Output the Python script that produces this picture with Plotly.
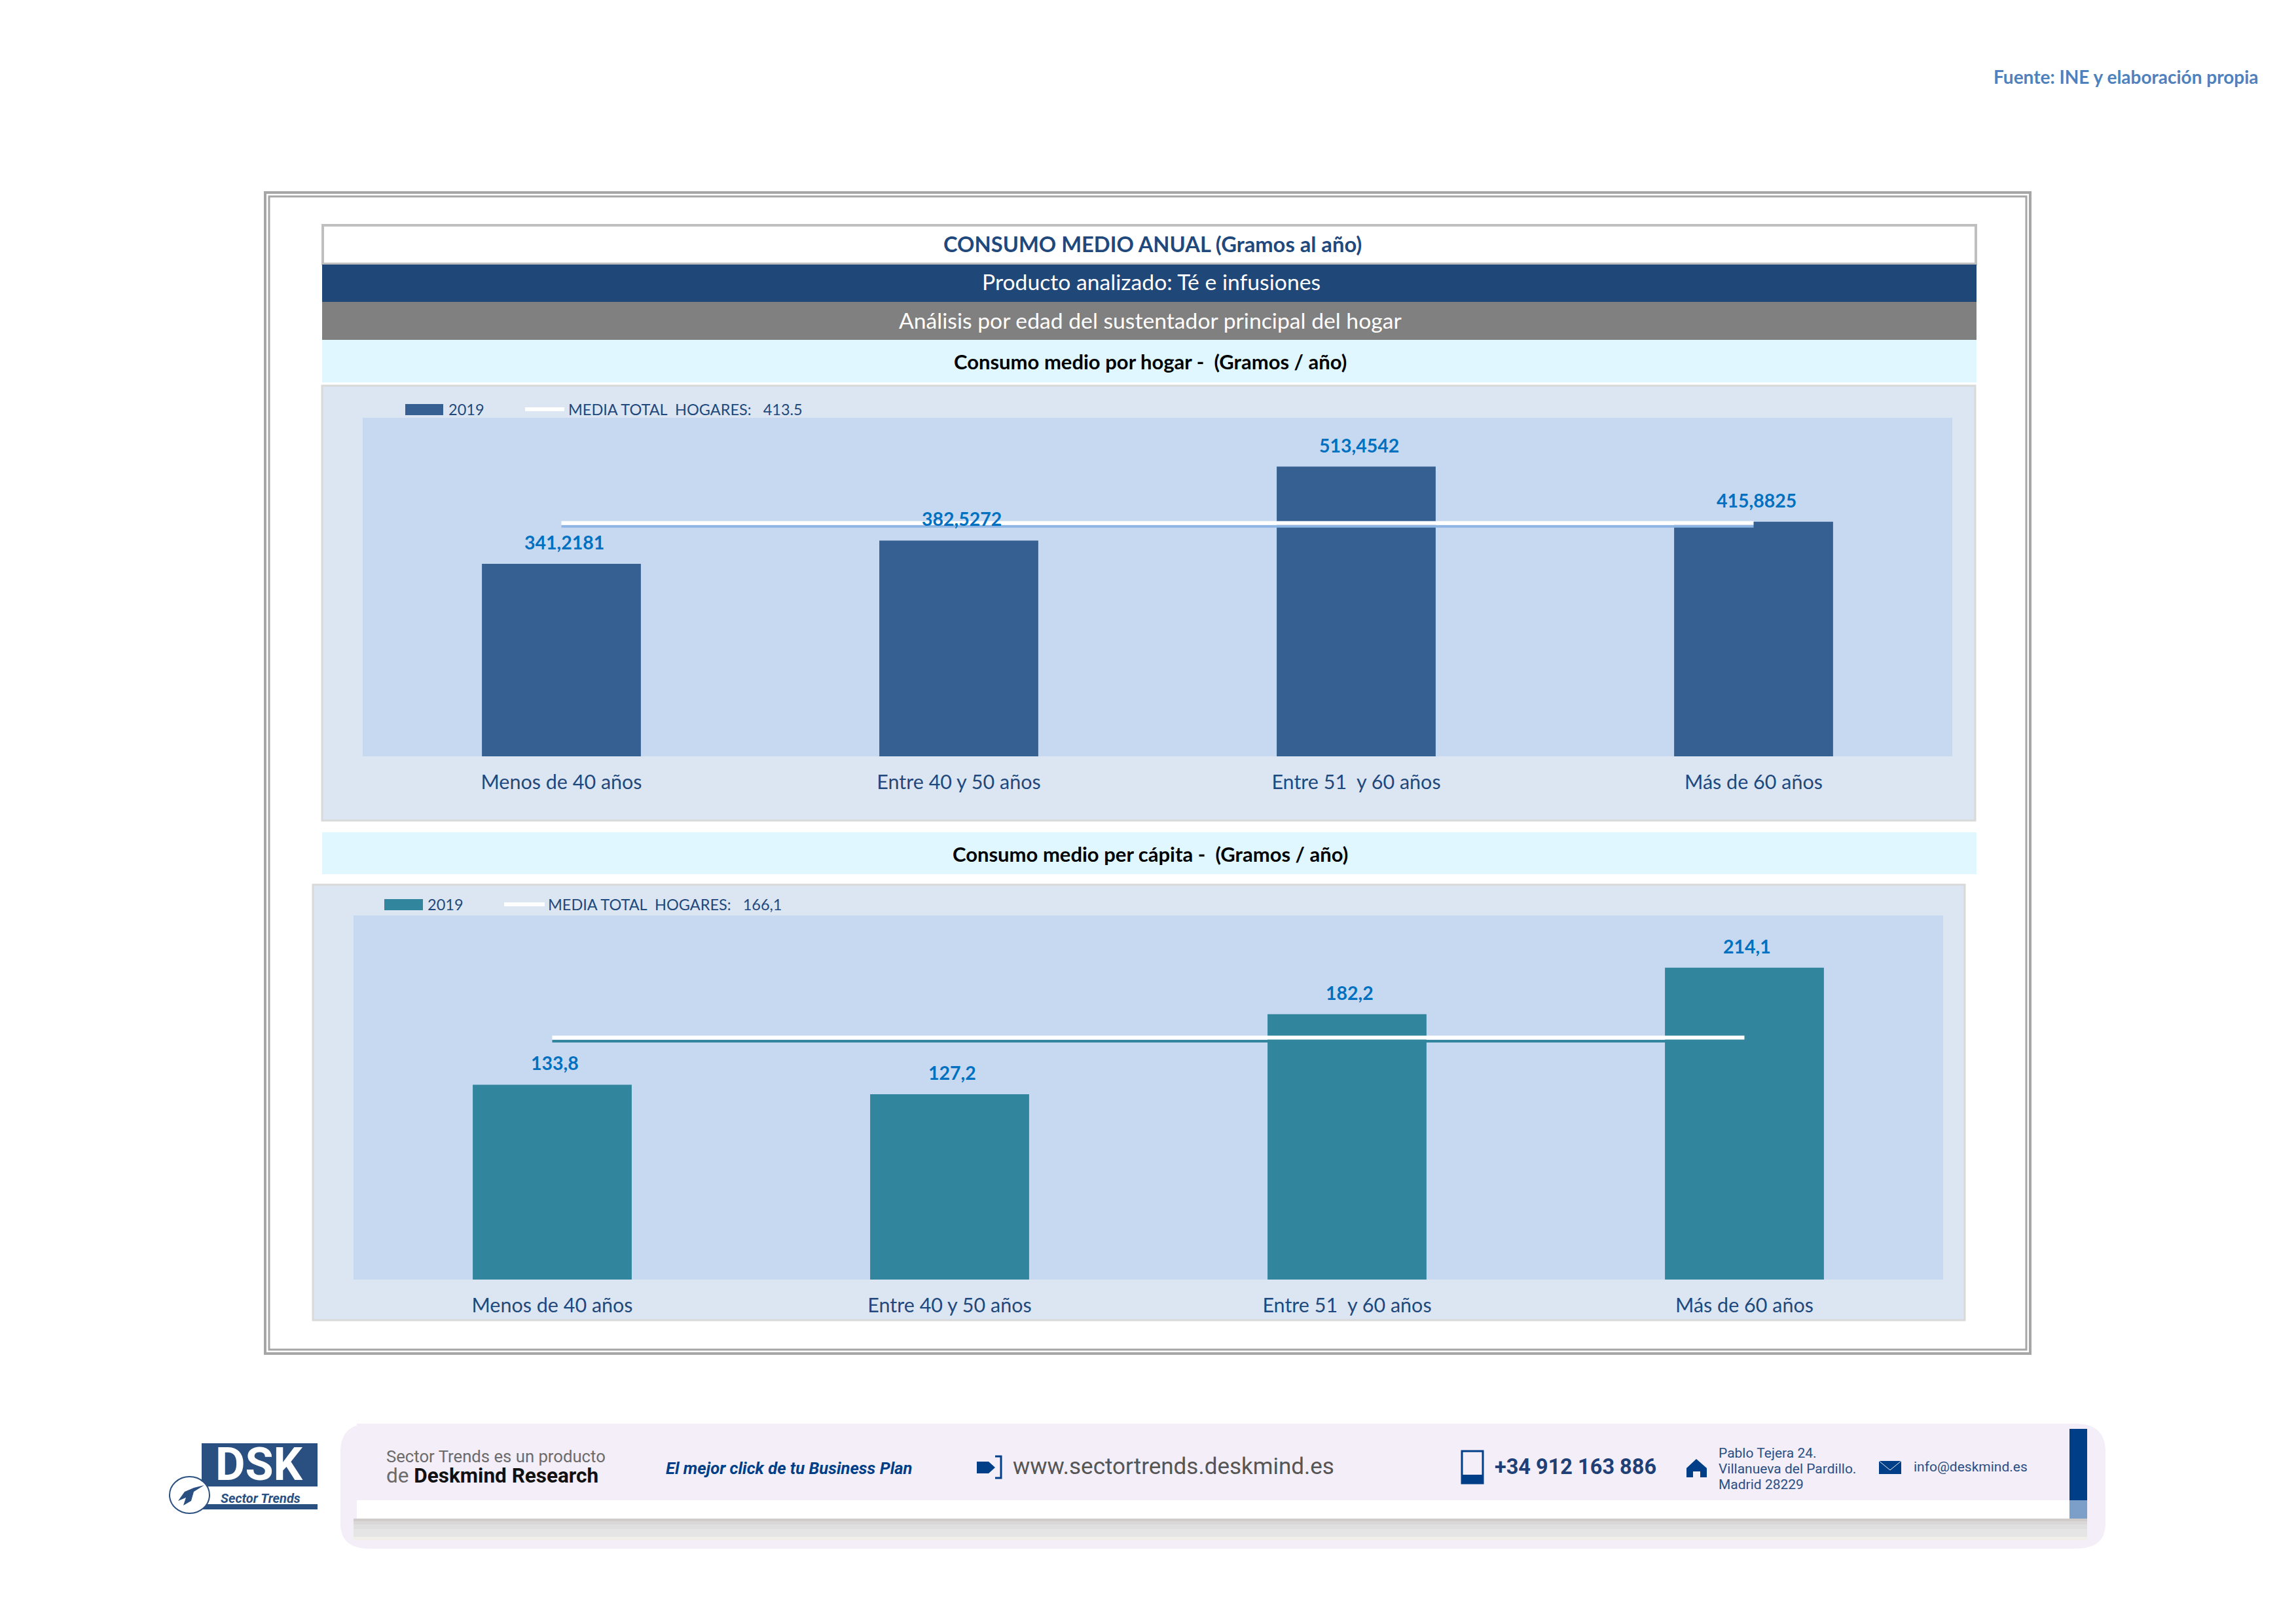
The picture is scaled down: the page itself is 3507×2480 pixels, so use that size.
import plotly.graph_objects as go

W, H = 3507, 2480

# ---------- data ----------
categories = ["Menos de 40 años", "Entre 40 y 50 años", "Entre 51\u00a0 y 60 años", "Más de 60 años"]
values_hogar = [341.2181, 382.5272, 513.4542, 415.8825]
values_capita = [133.8, 127.2, 182.2, 214.1]
mean_hogar = 413.5
mean_capita = 166.1
labels_hogar = ["341,2181", "382,5272", "513,4542", "415,8825"]
labels_capita = ["133,8", "127,2", "182,2", "214,1"]
legend_hogar = "MEDIA TOTAL\u00a0 HOGARES:\u00a0\u00a0 413.5"
legend_capita = "MEDIA TOTAL\u00a0 HOGARES:\u00a0\u00a0 166,1"

# ---------- colours ----------
NAVY = "#1F497D"
BAR1 = "#366092"
BAR2 = "#31859C"
PANEL = "#DCE6F2"
PLOT = "#C6D9F1"
CYAN = "#E0F7FF"
LABEL = "#0070C0"
MAIN = "Lato"
FOOT = "Roboto"


def px(x):
    return x / W


def py(y):
    # the footer block sits 2 px lower than the raw readings
    return 1 - (y + (2 if y >= 2150 else 0)) / H


shapes = []
annotations = []


def rect(x0, y0, x1, y1, fill="rgba(0,0,0,0)", line=None, lw=0):
    shapes.append(dict(type="rect", xref="paper", yref="paper", x0=px(x0), x1=px(x1), y0=py(y1), y1=py(y0),
                       fillcolor=fill, line=dict(color=line or "rgba(0,0,0,0)", width=lw), layer="below"))


def path(d, fill="rgba(0,0,0,0)", line=None, lw=0):
    shapes.append(dict(type="path", xref="paper", yref="paper", path=d, fillcolor=fill,
                       line=dict(color=line or "rgba(0,0,0,0)", width=lw), layer="below"))


def P(points, close=True):
    s = "M" + " L".join(f"{px(x):.5f},{py(y):.5f}" for x, y in points)
    return s + (" Z" if close else "")


def text(x, y, s, size, color, anchor="left", bold=False, font=MAIN):
    if bold:
        s = f"<b>{s}</b>"
    annotations.append(dict(xref="paper", yref="paper", x=px(x), y=py(y), text=s, showarrow=False,
                            xanchor=anchor, yanchor="middle",
                            font=dict(family=font, size=size, color=color)))


# ---------- outer frame ----------
rect(405, 294, 3101, 2067, line="#A6A6A6", lw=4)
rect(411, 300, 3095, 2061, line="#A6A6A6", lw=3)

# ---------- header bands ----------
rect(493, 344, 3018, 403, fill="#FFFFFF", line="#BFBFBF", lw=4)
rect(492, 404, 3019, 461, fill="#1F4778")
rect(492, 461, 3019, 519, fill="#808080")
rect(492, 519, 3019, 584, fill=CYAN)
rect(492, 1271, 3019, 1335, fill=CYAN)

text(1760, 372, "CONSUMO MEDIO ANUAL (Gramos al año)", 32.7, NAVY, "center", True)
text(1758, 430, "Producto analizado: Té e infusiones", 33.7, "#FFFFFF", "center")
text(1757, 489, "Análisis por edad del sustentador principal del hogar", 33.7, "#FFFFFF", "center")
text(1757, 552, "Consumo medio por hogar -\u00a0 (Gramos / año)", 31, "#000000", "center", True)
text(1757, 1304, "Consumo medio per cápita -\u00a0 (Gramos / año)", 31, "#000000", "center", True)
text(3452, 117, "Fuente: INE y elaboración propia", 28, "#4F81BD", "right", True)

# ---------- chart panels ----------
P1 = dict(panel=(492, 589, 3017, 1253), plot=(554, 638, 2982, 1155))
P2 = dict(panel=(478, 1351, 3001, 2016), plot=(540, 1398, 2968, 1954))
for p in (P1, P2):
    rect(*p["panel"], fill=PANEL, line="#D9D9D9", lw=3)
    rect(*p["plot"], fill=PLOT)

# ---------- legends ----------
rect(619, 617, 677, 634, fill=BAR1)
text(683, 625, "2019", 23.5, NAVY)
shapes.append(dict(type="line", xref="paper", yref="paper", x0=px(802), x1=px(862), y0=py(625), y1=py(625),
                   line=dict(color="#FFFFFF", width=6), layer="below"))
text(866, 625, legend_hogar, 23.5, NAVY)

rect(587, 1373, 646, 1390, fill=BAR2)
text(651, 1381, "2019", 23.5, NAVY)
shapes.append(dict(type="line", xref="paper", yref="paper", x0=px(770), x1=px(832), y0=py(1381), y1=py(1381),
                   line=dict(color="#FFFFFF", width=6), layer="below"))
text(835, 1381, legend_capita, 23.5, NAVY)

# ---------- footer banner ----------
path(f"M{px(565):.5f},{py(2172):.5f} L{px(3170):.5f},{py(2172):.5f} Q{px(3216):.5f},{py(2172):.5f} {px(3216):.5f},{py(2215):.5f} "
     f"L{px(3216):.5f},{py(2325):.5f} Q{px(3216):.5f},{py(2363):.5f} {px(3170):.5f},{py(2363):.5f} L{px(565):.5f},{py(2363):.5f} "
     f"Q{px(520):.5f},{py(2363):.5f} {px(520):.5f},{py(2325):.5f} L{px(520):.5f},{py(2215):.5f} Q{px(520):.5f},{py(2172):.5f} {px(565):.5f},{py(2172):.5f} Z",
     fill="#F3EEF8")
rect(540, 2317, 3188, 2350, fill="#F1EFEA")
rect(540, 2317, 3188, 2345, fill="#E5E5E5")
rect(540, 2317, 3188, 2333, fill="#E0DFDF")
rect(540, 2317, 3188, 2326, fill="#D9D7D7")
rect(540, 2317, 3188, 2321, fill="#D0CCCC")
rect(545, 2289, 3161, 2317, fill="#FFFFFF")
rect(545, 2172, 3161, 2289, fill="#F3EEF8")
rect(3161, 2180, 3188, 2289, fill="#003F87")
rect(3161, 2289, 3188, 2317, fill="#7C9FC9")

# logo
rect(308, 2202, 485, 2268, fill="#2A5082")
rect(308, 2295, 485, 2303, fill="#2A5082")
text(396, 2234, "DSK", 70, "#FFFFFF", "center", True, FOOT)
text(398, 2286, "<i>Sector Trends</i>", 20, "#2A5082", "center", True, FOOT)
shapes.append(dict(type="circle", xref="paper", yref="paper", x0=px(259), x1=px(320), y0=py(2309), y1=py(2253),
                   fillcolor="#FFFFFF", line=dict(color="#2A5082", width=2), layer="below"))
path(P([(312, 2266), (296, 2276), (292, 2290), (280, 2297), (284, 2285), (272, 2290), (282, 2276), (296, 2270)]), fill="#2A5082")

text(588, 2222, "Sector Trends es un producto", 25.7, "#6B6B6B", font=FOOT)
text(588, 2251, "<span style='color:#6B6B6B;font-weight:400'>de </span><b>Deskmind Research</b>", 31.5, "#111111", font=FOOT)
text(1015, 2240, "<i>El mejor click de tu Business Plan</i>", 25.6, "#003F87", bold=True, font=FOOT)
text(1545, 2237, "www.sectortrends.deskmind.es", 35, "#555555", font=FOOT)
text(2281, 2238, "+34 912 163 886", 32.5, "#1F3F77", bold=True, font=FOOT)
text(2623, 2217, "Pablo Tejera 24.", 21, "#2A4F85", font=FOOT)
text(2623, 2241, "Villanueva del Pardillo.", 21, "#2A4F85", font=FOOT)
text(2623, 2265, "Madrid 28229", 21, "#2A4F85", font=FOOT)
text(2921, 2238, "info@deskmind.es", 21, "#2A4F85", font=FOOT)

# arrow icon
path(P([(1492, 2230), (1510, 2230), (1520, 2239), (1510, 2248), (1492, 2248)]), fill="#003F87")
path(P([(1520, 2222), (1529, 2222), (1529, 2255), (1520, 2255)], close=False), line="#003F87", lw=3)
# phone icon
rect(2233, 2214, 2265, 2263, line="#003F87", lw=3)
rect(2233, 2250, 2265, 2263, fill="#003F87")
# house icon
path(P([(2591, 2226), (2607, 2240), (2607, 2254), (2597, 2254), (2597, 2245), (2586, 2245), (2586, 2254), (2576, 2254), (2576, 2240)]), fill="#003F87")
# mail icon
rect(2870, 2229, 2904, 2249, fill="#003F87")
path(P([(2870, 2229), (2887, 2243), (2904, 2229)], close=False), line="#F3EEF8", lw=1)

# ---------- traces ----------
fig = go.Figure()


def add_chart(cats, vals, labels, mean, color, shadow, shadow_off, xa, ya):
    fig.add_trace(go.Bar(x=cats, y=vals, width=0.4, marker=dict(color=color, line=dict(width=0)),
                         showlegend=False, xaxis=xa, yaxis=ya, name="2019"))
    fig.add_trace(go.Scatter(x=cats, y=[mean - shadow_off] * 4, mode="lines", line=dict(color=shadow, width=4),
                             showlegend=False, xaxis=xa, yaxis=ya, hoverinfo="skip"))
    fig.add_trace(go.Scatter(x=cats, y=[mean] * 4, mode="lines", line=dict(color="#FFFFFF", width=6),
                             showlegend=False, xaxis=xa, yaxis=ya, name="MEDIA TOTAL HOGARES"))
    for c, v, l in zip(cats, vals, labels):
        annotations.append(dict(xref=xa, yref=ya, x=c, y=v, text=f"<b>{l}</b>", showarrow=False,
                                xanchor="center", yanchor="middle", xshift=4, yshift=33,
                                font=dict(family=MAIN, size=28.5, color=LABEL)))


add_chart(categories, values_hogar, labels_hogar, mean_hogar, BAR1, "#8DB4E2", 6.0, "x", "y")
add_chart(categories, values_capita, labels_capita, mean_capita, BAR2, BAR2, 2.4, "x2", "y2")


def xdom(p):
    return [px(p["plot"][0]), px(p["plot"][2])]


def ydom(p):
    return [py(p["plot"][3]), py(p["plot"][1])]


tick = dict(showgrid=False, zeroline=False, showline=False, ticks="outside", ticklen=12,
            tickcolor="rgba(0,0,0,0)", tickfont=dict(family=MAIN, size=30.5, color=NAVY), fixedrange=True)
yax = dict(visible=False, fixedrange=True, showgrid=False, zeroline=False)

fig.update_layout(
    width=W, height=H, margin=dict(l=0, r=0, t=0, b=0, pad=0), autosize=False,
    paper_bgcolor="#FFFFFF", plot_bgcolor="rgba(0,0,0,0)", showlegend=False,
    xaxis=dict(domain=xdom(P1), anchor="y", **tick),
    yaxis=dict(domain=ydom(P1), anchor="x", range=[0, 600], **yax),
    xaxis2=dict(domain=xdom(P2), anchor="y2", **tick),
    yaxis2=dict(domain=ydom(P2), anchor="x2", range=[0, 250], **yax),
    shapes=shapes, annotations=annotations,
)

fig.write_html("out.html", config={"displayModeBar": False},
               post_script="document.body.style.margin='0';document.body.style.overflow='hidden';")
